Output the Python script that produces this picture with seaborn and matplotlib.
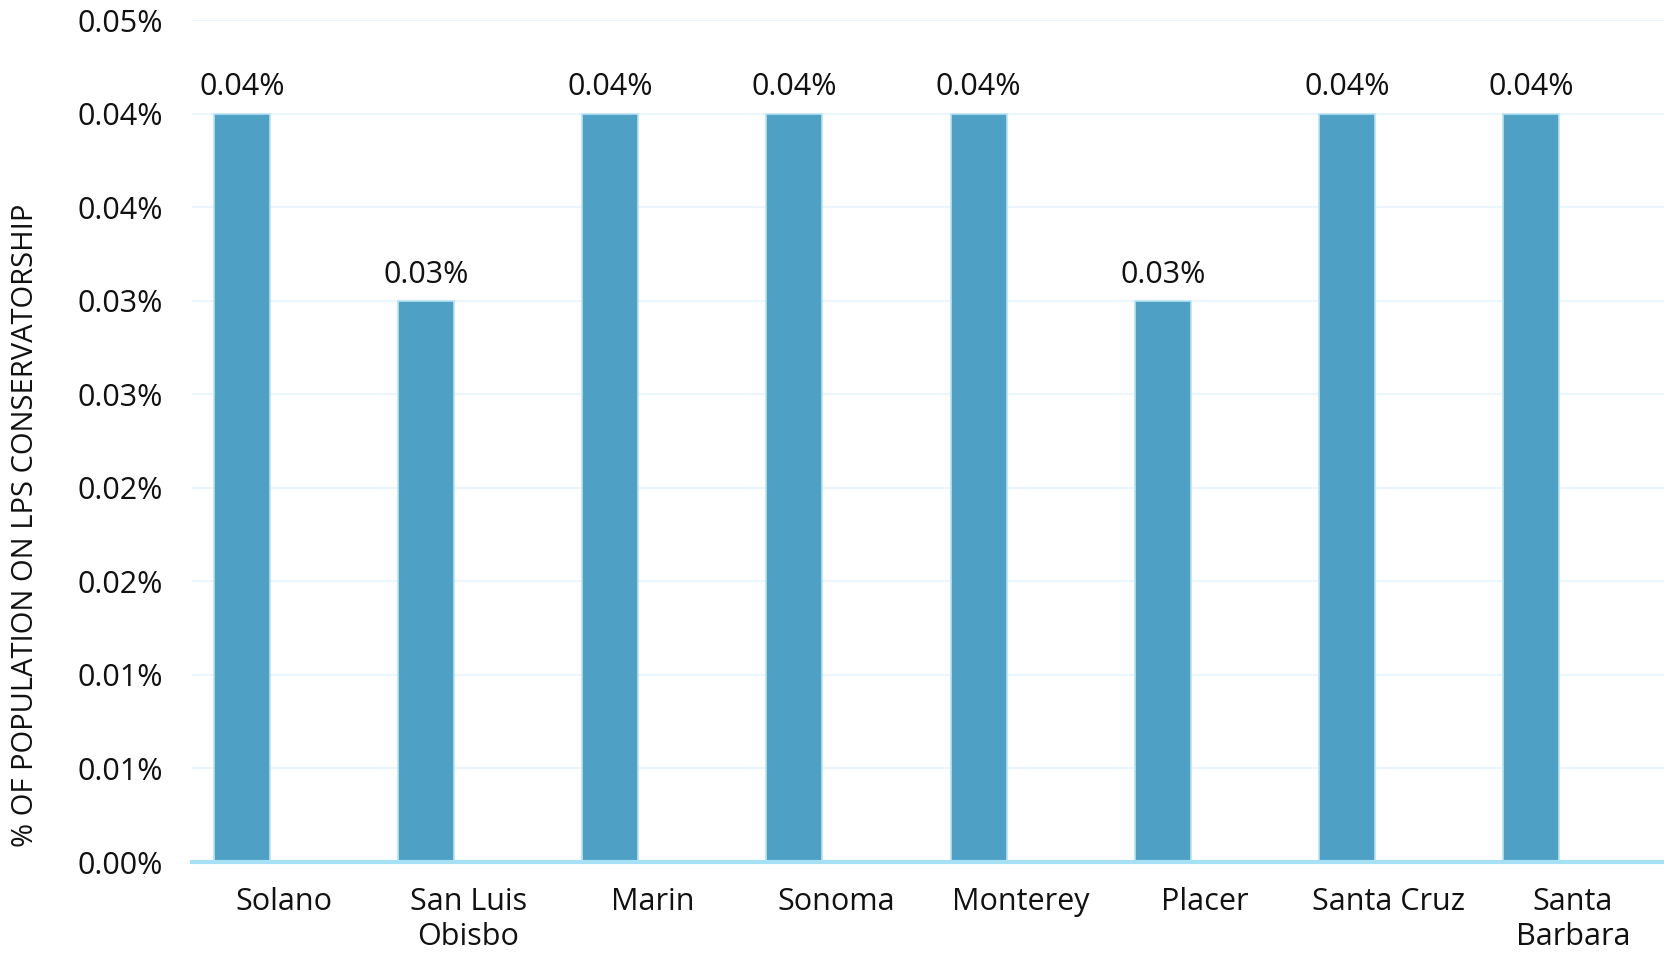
import numpy as np
import pandas as pd
import matplotlib
matplotlib.use("Agg")
import matplotlib.pyplot as plt
import seaborn as sns

counties = ["Solano", "San Luis\nObisbo", "Marin", "Sonoma", "Monterey",
            "Placer", "Santa Cruz", "Santa\nBarbara"]
pct_lps = [0.04, 0.03, 0.04, 0.04, 0.04, 0.03, 0.04, 0.04]
ytick_labels = ["0.00%", "0.01%", "0.01%", "0.02%", "0.02%",
                "0.03%", "0.03%", "0.04%", "0.04%", "0.05%"]

df = pd.DataFrame({
    "county": counties * 2,
    "value": pct_lps + [np.nan] * len(counties),
    "series": ["LPS"] * len(counties) + ["blank"] * len(counties),
})

sns.set_theme(style="white")
plt.rcParams["font.family"] = ["Open Sans", "DejaVu Sans"]

fig = plt.figure(figsize=(16.65, 9.55), dpi=100)
ax = fig.add_axes([192 / 1665, 1 - 862 / 955, (1665 - 192) / 1665, (862 - 20) / 955])

bar_color = "#4EA0C4"
sns.barplot(data=df, x="county", y="value", hue="series",
            palette=[bar_color, bar_color], saturation=1, width=0.912, gap=0.333,
            edgecolor="#B9E3F2", linewidth=1.2, legend=False, ax=ax,
            errorbar=None)

ax.bar_label(ax.containers[0], labels=[f"{v:.2f}%" for v in pct_lps],
             padding=8, fontsize=22, color="#111111")

yticks = np.arange(len(ytick_labels)) * 0.005
ax.set_ylim(0, yticks[-1])
ax.set_xlim(-0.5, len(counties) - 0.5)
ax.set_yticks(yticks)
ax.set_yticklabels(ytick_labels, fontsize=22, color="#111111")
ax.tick_params(axis="y", length=0, pad=21)
ax.tick_params(axis="x", length=0, pad=18, labelsize=22, labelcolor="#111111")
ax.yaxis.grid(True, color="#EAF6FB", linewidth=1.5)
ax.set_axisbelow(True)
for s in ["top", "right", "left"]:
    ax.spines[s].set_visible(False)
ax.spines["bottom"].set_color("#A6E0F5")
ax.spines["bottom"].set_linewidth(3)

ax.set_xlabel("")
ax.set_ylabel("% OF POPULATION ON LPS CONSERVATORSHIP", fontsize=21,
              color="#111111")
ax.yaxis.set_label_coords(-(192 - 40) / (1665 - 192), 0.40)

fig.savefig("out.png", dpi=100)
